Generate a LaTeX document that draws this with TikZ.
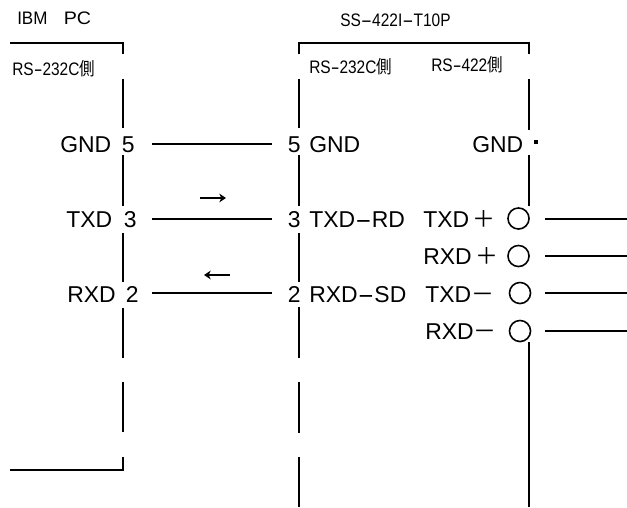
\documentclass[tikz,border=0pt]{standalone}
\usepackage{fontspec}
\usepackage{graphicx}
\usetikzlibrary{arrows.meta}
\setmainfont{Liberation Sans}
\newfontfamily\cjk{Noto Sans CJK JP}
\newcommand{\hy}{\scalebox{2.2}[1]{-}}
\newcommand{\hys}{\scalebox{1.7}[1]{-}}
\newcommand{\tall}[1]{\scalebox{1}[1.17]{#1}}
\begin{document}
\begin{tikzpicture}[x=0.75pt,y=-0.75pt,
  wire/.style={line width=1.1pt,black},
  big/.style={inner sep=0pt,anchor=base west,font=\fontsize{17.2pt}{20pt}\selectfont,text=black},
  small/.style={inner sep=0pt,anchor=base west,font=\fontsize{11.6pt}{14pt}\selectfont,text=black},
  pin/.style={circle,draw=black,line width=1.2pt,minimum size=15.8pt,inner sep=0pt},
  flow/.style={line width=1.5pt,-{Stealth[length=5pt,width=6.5pt,inset=1.5pt]}}]
\useasboundingbox (0,0) rectangle (627,507);
\fill[white] (0,0) rectangle (627,507);
% titles
\node[small] (tibm) at (17,24.5) {\tall{\scalebox{1.1}[1]{IBM}\hspace{1.05em}\scalebox{1.27}[1]{PC}}};
\node[small] (tss) at (340,26) {\tall{SS\hy 422I\hy T10P}};
\node[small] (tl) at (12,75) {\tall{RS\hys 232C{\cjk 側}}};
\node[small] (tm) at (309,73.5) {\tall{RS\hys 232C{\cjk 側}}};
\node[small] (tr) at (431,71) {\tall{RS\hys 422{\cjk 側}}};
% left labels
\node[big] (lg) at (60,152) {GND};
\node[big] (lt) at (66,227) {TXD};
\node[big] (lr) at (67,302) {RXD};
\node[big] (l5) at (121.5,152) {5};
\node[big] (l3) at (123.5,227) {3};
\node[big] (l2) at (125.5,302) {2};
% middle labels
\node[big] (r5) at (287.5,152) {5};
\node[big] (r3) at (287.5,227) {3};
\node[big] (r2) at (287.5,302) {2};
\node[big] (mg) at (309,152) {GND};
\node[big] (mt) at (309,227) {TXD\hy RD};
\node[big] (mr) at (309,302) {RXD\hy SD};
% right labels
\node[big] (gg) at (472,152) {GND};
\node[big] (tp) at (423,227) {TXD\kern0.15em{\cjk ＋}};
\node[big] (rp) at (423,264) {RXD\kern0.15em{\cjk ＋}};
\node[big] (tn) at (425,302) {TXD{\cjk －}};
\node[big] (rn) at (425,339) {RXD{\cjk －}};
% pins
\node[pin] (c1) at (518.5,218.5) {};
\node[pin] (c2) at (518.5,256) {};
\node[pin] (c3) at (520,293) {};
\node[pin] (c4) at (520,331) {};
\node[fill=black,minimum size=3.4pt,inner sep=0pt] (gdot) at (536,142) {};
% wire end points
\coordinate (a1) at (152,144); \coordinate (b1) at (272,144);
\coordinate (a2) at (152,219); \coordinate (b2) at (272,219);
\coordinate (a3) at (152,293); \coordinate (b3) at (272,293);
\coordinate (e1) at (545,219); \coordinate (f1) at (627,219);
\coordinate (e2) at (545,256); \coordinate (f2) at (627,256);
\coordinate (e3) at (545,293); \coordinate (f3) at (627,293);
\coordinate (e4) at (545,331); \coordinate (f4) at (627,331);
\draw[wire] (a1) -- (b1);
\draw[wire] (a2) -- (b2);
\draw[wire] (a3) -- (b3);
\draw[wire] (e1) -- (f1);
\draw[wire] (e2) -- (f2);
\draw[wire] (e3) -- (f3);
\draw[wire] (e4) -- (f4);
% direction arrows
\coordinate (ar1) at (200,198); \coordinate (ar2) at (226,198);
\coordinate (ar3) at (230,275); \coordinate (ar4) at (204,275);
\draw[flow] (ar1) -- (ar2);
\draw[flow] (ar3) -- (ar4);
% left box
\draw[wire] (10,43) -- (123,43) -- (123,54);
\foreach \p/\q in {79/128,155/206,233/282,308/358,382/432}{\draw[wire] (123,\p) -- (123,\q);}
\draw[wire] (123,457) -- (123,470) -- (10,470);
% right box
\draw[wire] (299,54) -- (299,43) -- (529,43) -- (529,54);
\foreach \p/\q in {79/128,155/206,233/282,307/358,382/433,457/507}{\draw[wire] (299,\p) -- (299,\q);}
\foreach \p/\q in {79/130,155/206,342/507}{\draw[wire] (529,\p) -- (529,\q);}
\end{tikzpicture}
\end{document}
